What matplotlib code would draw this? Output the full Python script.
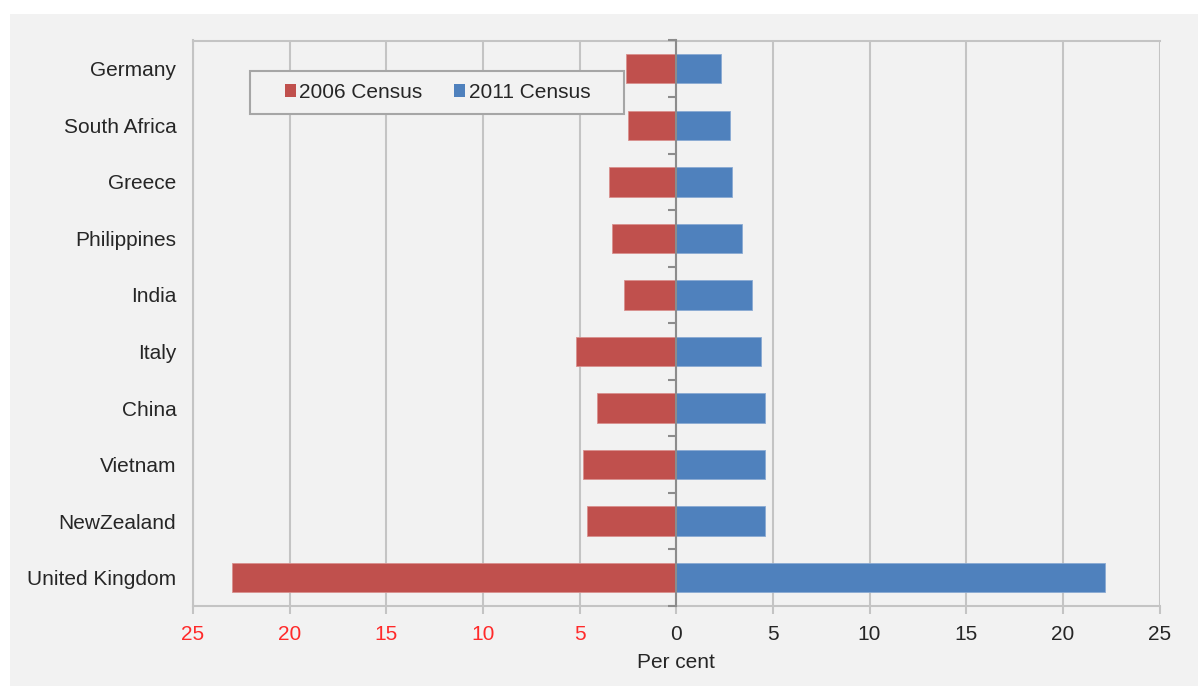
import numpy as np
import matplotlib.pyplot as plt
from matplotlib.patches import Rectangle, Patch

plt.rcParams['font.family'] = ['Liberation Sans', 'DejaVu Sans']

countries = ['Germany', 'South Africa', 'Greece', 'Philippines', 'India',
             'Italy', 'China', 'Vietnam', 'NewZealand', 'United Kingdom']
census_2006 = [2.6, 2.5, 3.5, 3.3, 2.7, 5.2, 4.1, 4.8, 4.6, 23.0]
census_2011 = [2.3, 2.8, 2.9, 3.4, 3.9, 4.4, 4.6, 4.6, 4.6, 22.2]
tick_vals = [-25, -20, -15, -10, -5, 0, 5, 10, 15, 20, 25]

red = '#c0504d'
blue = '#4f81bd'
grey_line = '#c4c4c4'
txt = '#262626'

fig = plt.figure(figsize=(11.98, 6.86), dpi=100)
fig.patch.set_facecolor('white')
fig.patches.append(Rectangle((10 / 1198, 0), 1 - 10 / 1198, 1 - 14 / 686,
                             transform=fig.transFigure, facecolor='#f2f2f2',
                             edgecolor='none', zorder=-10))

ax = fig.add_axes([193 / 1198, 1 - 606 / 686, 966.5 / 1198, 565.5 / 686])
ax.set_facecolor('#f2f2f2')

y = np.arange(len(countries))
ax.barh(y, -np.array(census_2006), height=0.52, color=red,
        edgecolor='#d8908e', linewidth=0.6, zorder=3)
ax.barh(y, census_2011, height=0.52, color=blue,
        edgecolor='#8aaad3', linewidth=0.6, zorder=3)

ax.set_xlim(-25, 25)
ax.set_ylim(len(countries) - 0.5, -0.5)

# vertical gridlines
ax.set_xticks(tick_vals)
ax.grid(axis='x', color=grey_line, linewidth=1.5, zorder=0)
ax.set_xticklabels([str(abs(v)) for v in tick_vals], fontsize=15)
for lab, v in zip(ax.get_xticklabels(), tick_vals):
    lab.set_color('#ff2a2a' if v < 0 else txt)
ax.tick_params(axis='x', direction='out', length=6, width=1.5,
               color=grey_line, pad=8)

ax.set_yticks(y)
ax.set_yticklabels(countries, fontsize=15, color=txt)
ax.tick_params(axis='y', length=0, pad=12)

for side in ['left', 'top', 'bottom']:
    ax.spines[side].set_color(grey_line)
    ax.spines[side].set_linewidth(1.5)
ax.spines['right'].set_visible(False)

# category axis running through zero
zero_axis = ax.secondary_yaxis(0.5)
zero_axis.set_alignment('left')
zero_axis.set_zorder(4)
zero_axis.spines['left'].set_color('#8c8c8c')
zero_axis.spines['left'].set_linewidth(1.5)
zero_axis.set_yticks(np.arange(-0.5, len(countries), 1.0))
zero_axis.set_yticklabels([])
zero_axis.tick_params(axis='y', direction='out', length=6, width=1.5,
                      color='#8c8c8c')

ax.set_xlabel('Per cent', fontsize=15, color=txt, labelpad=6)

# legend box
ax.add_patch(Rectangle((0.059, 0.870), 0.387, 0.076, transform=ax.transAxes,
                       facecolor='#f2f2f2', edgecolor='#a6a6a6',
                       linewidth=1.5, zorder=5))
handles = [Patch(facecolor=red, label='2006 Census'),
           Patch(facecolor=blue, label='2011 Census')]
leg = ax.legend(handles=handles, ncol=2, loc='center',
                bbox_to_anchor=(0.253, 0.908), fontsize=15,
                handlelength=0.55, handleheight=0.55, handletextpad=0.15,
                columnspacing=1.5, borderpad=0.2, frameon=False,
                borderaxespad=0)
for t in leg.get_texts():
    t.set_color(txt)
leg.set_zorder(6)

fig.savefig('out.png', dpi=100, facecolor=fig.get_facecolor())
